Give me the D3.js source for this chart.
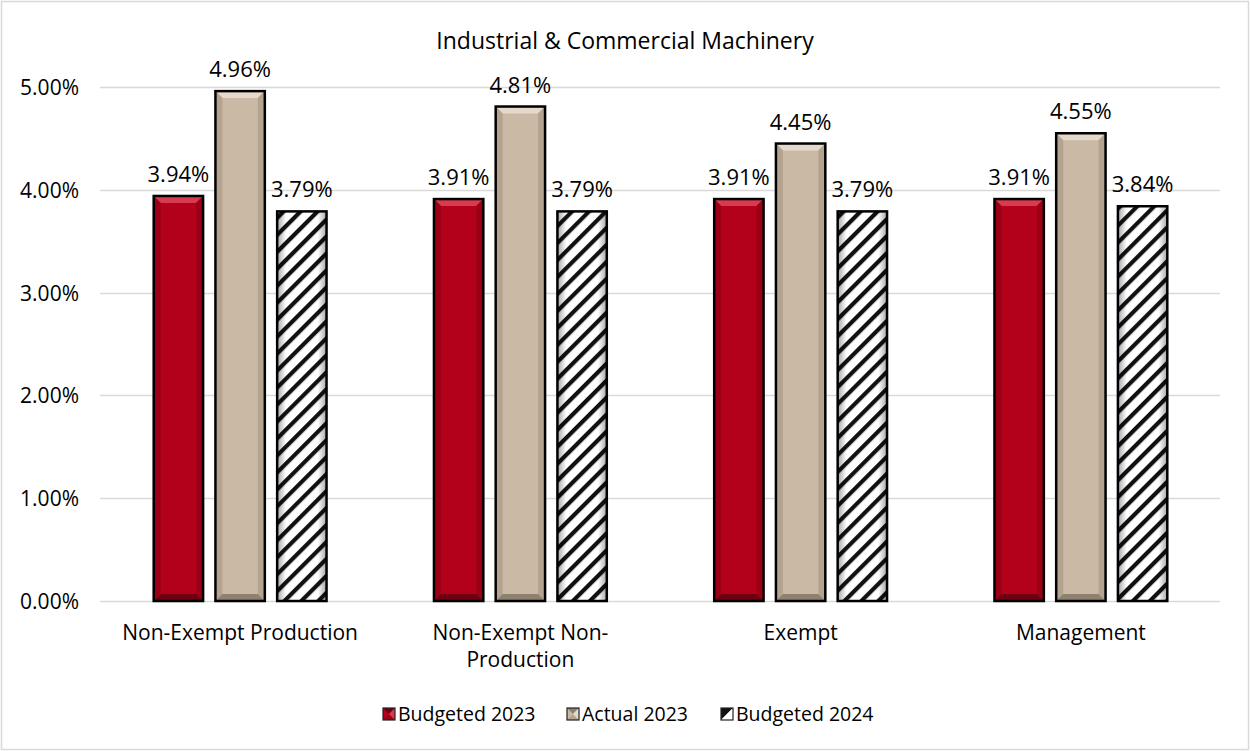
<!DOCTYPE html>
<html>
<head>
<meta charset="utf-8">
<script src="https://cdn.jsdelivr.net/npm/d3@7/dist/d3.min.js"></script>
<style>
  html, body { margin: 0; padding: 0; background: #fff; }
  svg text { font-family: "Open Sans", "Noto Sans", sans-serif; fill: #000; }
</style>
</head>
<body>
<svg id="chart" width="1250" height="751"></svg>
<script>
// Chart data
const title = "Industrial & Commercial Machinery";
const categories = [["Non-Exempt Production"], ["Non-Exempt Non-", "Production"], ["Exempt"], ["Management"]];
const seriesNames = ["Budgeted 2023", "Actual 2023", "Budgeted 2024"];
const budgeted2023 = [3.94, 3.91, 3.91, 3.91];
const actual2023   = [4.96, 4.81, 4.45, 4.55];
const budgeted2024 = [3.79, 3.79, 3.79, 3.84];
const yTicks = [0, 1, 2, 3, 4, 5];

const seriesValues = [budgeted2023, actual2023, budgeted2024];

const W = 1250, H = 751;
const plot = { left: 100, right: 1221, top: 87, bottom: 601 };
const FONT = "'Open Sans', 'Noto Sans', sans-serif";

const svg = d3.select("#chart");
const defs = svg.append("defs");

// Diagonal hatch for the 2024 budget series
const hatch = defs.append("pattern")
  .attr("id", "hatch")
  .attr("patternUnits", "userSpaceOnUse")
  .attr("width", 12).attr("height", 12)
  .attr("patternTransform", "rotate(45)");
hatch.append("rect").attr("width", 12).attr("height", 12).attr("fill", "#fff");
hatch.append("rect").attr("x", 0).attr("width", 4.2).attr("height", 12).attr("fill", "#111");

// Side shading to give the hatched bars some depth
const hatchShade = defs.append("linearGradient").attr("id", "hatchShade")
  .attr("x1", 0).attr("x2", 1).attr("y1", 0).attr("y2", 0);
hatchShade.append("stop").attr("offset", "0").attr("stop-color", "#000").attr("stop-opacity", 0.35);
hatchShade.append("stop").attr("offset", "0.18").attr("stop-color", "#000").attr("stop-opacity", 0);
hatchShade.append("stop").attr("offset", "0.82").attr("stop-color", "#000").attr("stop-opacity", 0);
hatchShade.append("stop").attr("offset", "1").attr("stop-color", "#000").attr("stop-opacity", 0.35);

const palette = [
  { base: "#b3001b", light: "#d83a50", side: "#9c0017", dark: "#700010" },
  { base: "#c9b9a5", light: "#e4d9cb", side: "#b3a38f", dark: "#8f8170" },
  { base: "url(#hatch)", light: null, side: null, dark: null }
];

// Outer chart frame
svg.append("rect")
  .attr("x", 1.5).attr("y", 1.5)
  .attr("width", W - 3).attr("height", H - 3)
  .attr("fill", "#fff").attr("stroke", "#d9d9d9").attr("stroke-width", 1.5);

// Scales
const y = d3.scaleLinear().domain([0, 5]).range([plot.bottom, plot.top]);
const x0 = d3.scaleBand().domain(d3.range(categories.length)).range([plot.left, plot.right]);
const x1 = d3.scaleBand().domain(d3.range(seriesNames.length))
  .range([0, x0.bandwidth()]).paddingInner(0.2).paddingOuter(0.87);

// Gridlines
svg.append("g").selectAll("line").data(yTicks).join("line")
  .attr("x1", plot.left).attr("x2", 1220)
  .attr("y1", d => Math.round(y(d)) + 0.5).attr("y2", d => Math.round(y(d)) + 0.5)
  .attr("stroke", "#d9d9d9").attr("stroke-width", 1.5);

// Y axis labels
const yAxis = d3.axisLeft(y).tickValues(yTicks).tickFormat(d => d.toFixed(2) + "%").tickSize(0).tickPadding(21);
const yg = svg.append("g").attr("transform", `translate(${plot.left},0)`).call(yAxis);
yg.select(".domain").remove();
yg.attr("font-family", null).attr("font-size", null);
yg.selectAll("text").style("font-size", "21px").style("font-family", FONT)
  .attr("fill", "#000").attr("dy", "0.36em");

// Title
svg.append("text").attr("x", 625).attr("y", 49).attr("text-anchor", "middle")
  .style("font-size", "23px").text(title);

// Bars
const bev = 7;
const barG = svg.append("g");
seriesValues.forEach((vals, s) => {
  vals.forEach((v, c) => {
    const bx = x0(c) + x1(s);
    const bw = x1.bandwidth();
    const top = y(v);
    const bot = y(0);
    const g = barG.append("g");
    const p = palette[s];
    g.append("rect").attr("x", bx).attr("y", top).attr("width", bw).attr("height", bot - top)
      .attr("fill", p.base);
    if (p.light) {
      // beveled edges: top, left, right, bottom
      g.append("polygon").attr("points", [[bx, top], [bx + bw, top], [bx + bw - bev, top + bev], [bx + bev, top + bev]].join(" "))
        .attr("fill", p.light);
      g.append("polygon").attr("points", [[bx, top], [bx + bev, top + bev], [bx + bev, bot - bev], [bx, bot]].join(" "))
        .attr("fill", p.side);
      g.append("polygon").attr("points", [[bx + bw, top], [bx + bw - bev, top + bev], [bx + bw - bev, bot - bev], [bx + bw, bot]].join(" "))
        .attr("fill", p.side);
      g.append("polygon").attr("points", [[bx, bot], [bx + bev, bot - bev], [bx + bw - bev, bot - bev], [bx + bw, bot]].join(" "))
        .attr("fill", p.dark);
    } else {
      g.append("rect").attr("x", bx).attr("y", top).attr("width", bw).attr("height", bot - top)
        .attr("fill", "url(#hatchShade)");
    }
    g.append("rect").attr("x", bx).attr("y", top).attr("width", bw).attr("height", bot - top)
      .attr("fill", "none").attr("stroke", "#000").attr("stroke-width", 2.5);

    // Value label
    svg.append("text").attr("x", bx + bw / 2).attr("y", top - 14)
      .attr("text-anchor", "middle").style("font-size", "22px")
      .text(v.toFixed(2) + "%");
  });
});

// Category labels
categories.forEach((lines, c) => {
  const cx = x0(c) + x0.bandwidth() / 2;
  const t = svg.append("text").attr("text-anchor", "middle").style("font-size", "21px");
  lines.forEach((ln, i) => {
    t.append("tspan").attr("x", cx).attr("y", 640 + i * 27).text(ln);
  });
});

// Legend
const legendX = [383, 567, 721];
seriesNames.forEach((name, s) => {
  const lx = legendX[s], ly = 708;
  const p = palette[s];
  const lg = svg.append("g");
  if (s < 2) {
    lg.append("rect").attr("x", lx).attr("y", ly).attr("width", 12).attr("height", 12).attr("fill", p.base);
    lg.append("polygon").attr("points", [[lx, ly], [lx + 12, ly], [lx + 6, ly + 6]].join(" ")).attr("fill", p.dark);
    lg.append("polygon").attr("points", [[lx, ly + 12], [lx + 12, ly + 12], [lx + 6, ly + 6]].join(" ")).attr("fill", p.side);
    lg.append("polygon").attr("points", [[lx + 12, ly], [lx + 12, ly + 12], [lx + 6, ly + 6]].join(" ")).attr("fill", p.light);
  } else {
    lg.append("polygon").attr("points", [[lx, ly], [lx + 12, ly], [lx, ly + 12]].join(" ")).attr("fill", "#111");
    lg.append("polygon").attr("points", [[lx + 12, ly], [lx + 12, ly + 12], [lx, ly + 12]].join(" ")).attr("fill", "#fff");
  }
  lg.append("rect").attr("x", lx).attr("y", ly).attr("width", 12).attr("height", 12)
    .attr("fill", "none").attr("stroke", "#222").attr("stroke-width", 1.2);
  svg.append("text").attr("x", lx + 15).attr("y", ly + 13).style("font-size", "19.5px").text(name);
});
</script>
</body>
</html>
